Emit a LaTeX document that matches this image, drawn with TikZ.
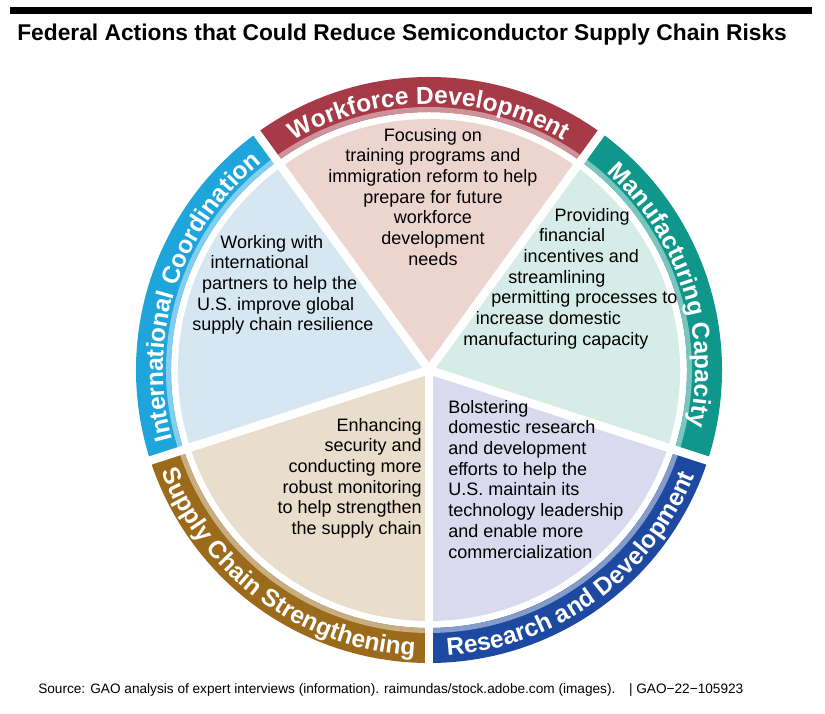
\documentclass[tikz,border=0pt]{standalone}
\usepackage{fontspec}
\setmainfont{Liberation Sans}
\usetikzlibrary{decorations.text}
\definecolor{wfR}{HTML}{A63A47}\definecolor{wfS}{HTML}{EDD5CF}
\definecolor{mcR}{HTML}{0E978A}\definecolor{mcS}{HTML}{D6ECE7}
\definecolor{rdR}{HTML}{1D4AA0}\definecolor{rdS}{HTML}{D9DAEE}
\definecolor{scR}{HTML}{9B6A1A}\definecolor{scS}{HTML}{E9DDCB}
\definecolor{icR}{HTML}{1EA6DC}\definecolor{icS}{HTML}{D7E7F2}
\begin{document}
\begin{tikzpicture}[x=0.025cm,y=0.025cm,
  body/.style={font=\fontsize{12.8}{14.7}\selectfont, inner sep=0pt},
  ringtxt/.style={decorate,decoration={text along path,text align=center,
     text={|\fontsize{17.5}{18}\selectfont\bfseries\color{white}|#1}}},
  gap/.style={white,line width=6pt}]
\useasboundingbox (0,0) rectangle (825,714);
\fill[white] (0,0) rectangle (825,714);
\fill[black] (10,700) rectangle (812,707);
\node[anchor=west,inner sep=0pt,font=\fontsize{16.2}{18}\selectfont\bfseries] (title) at (17,679) {Federal Actions that Could Reduce Semiconductor Supply Chain Risks};
\coordinate (C) at (429,344);
% ring segments and slices
\foreach \a/\r/\s in {54/wfR/wfS,-18/mcR/mcS,270/rdR/rdS,198/scR/scS,126/icR/icS}{
  \fill[\r] (C) ++(\a:293) arc[start angle=\a,end angle=\a+72,radius=293] -- ++(\a+72:-35) arc[start angle=\a+72,end angle=\a,radius=258] -- cycle;
  \fill[\r!55!white] (C) ++(\a:263) arc[start angle=\a,end angle=\a+72,radius=263] -- ++(\a+72:-5) arc[start angle=\a+72,end angle=\a,radius=258] -- cycle;
  \fill[\s] (C) -- ++(\a:251) arc[start angle=\a,end angle=\a+72,radius=251] -- cycle;
}
\foreach \a in {54,-18,270,198,126}{ \draw[gap] (C) -- ++(\a:300); }
% ring labels
\path[ringtxt={Workforce Development}] (C) ++(126:266) arc[start angle=126,end angle=54,radius=266];
\path[ringtxt={Manufacturing Capacity}] (C) ++(54:266) arc[start angle=54,end angle=-18,radius=266];
\path[ringtxt={International Coordination}] (C) ++(198:266) arc[start angle=198,end angle=126,radius=266];
\path[ringtxt={Supply Chain Strengthening}] (C) ++(198:286) arc[start angle=198,end angle=270,radius=286];
\path[ringtxt={Research and Development}] (C) ++(270:286) arc[start angle=270,end angle=342,radius=286];
% slice texts
\node[body,align=center,anchor=north] (wf) at (433,714-128) {Focusing on\\training programs and\\immigration reform to help\\prepare for future\\workforce\\development\\needs};
\node[body,align=left,anchor=north west] (ic) at (192,714-235) {\hspace*{20pt}Working with\\\hspace*{13pt}international\\\hspace*{7pt}partners to help the\\\hspace*{3.5pt}U.S. improve global\\supply chain resilience};
\node[body,align=left,anchor=north west] (mc) at (463,714-208) {\hspace*{65pt}Providing\\\hspace*{54pt}financial\\\hspace*{43pt}incentives and\\\hspace*{32pt}streamlining\\\hspace*{20pt}permitting processes to\\\hspace*{9pt}increase domestic\\manufacturing capacity};
\node[body,align=left,anchor=north west] (rd) at (448,714-400) {Bolstering\\domestic research\\and development\\efforts to help the\\U.S. maintain its\\technology leadership\\and enable more\\commercialization};
\node[body,align=right,anchor=north east] (sc) at (422,714-418) {Enhancing\\security and\\conducting more\\robust monitoring\\to help strengthen\\the supply chain};
\node[anchor=west,inner sep=0pt,font=\fontsize{9.7}{11}\selectfont] (src) at (38,714-690) {Source: GAO analysis of expert interviews (information). raimundas/stock.adobe.com (images).\quad | GAO−22−105923};
\end{tikzpicture}
\end{document}
